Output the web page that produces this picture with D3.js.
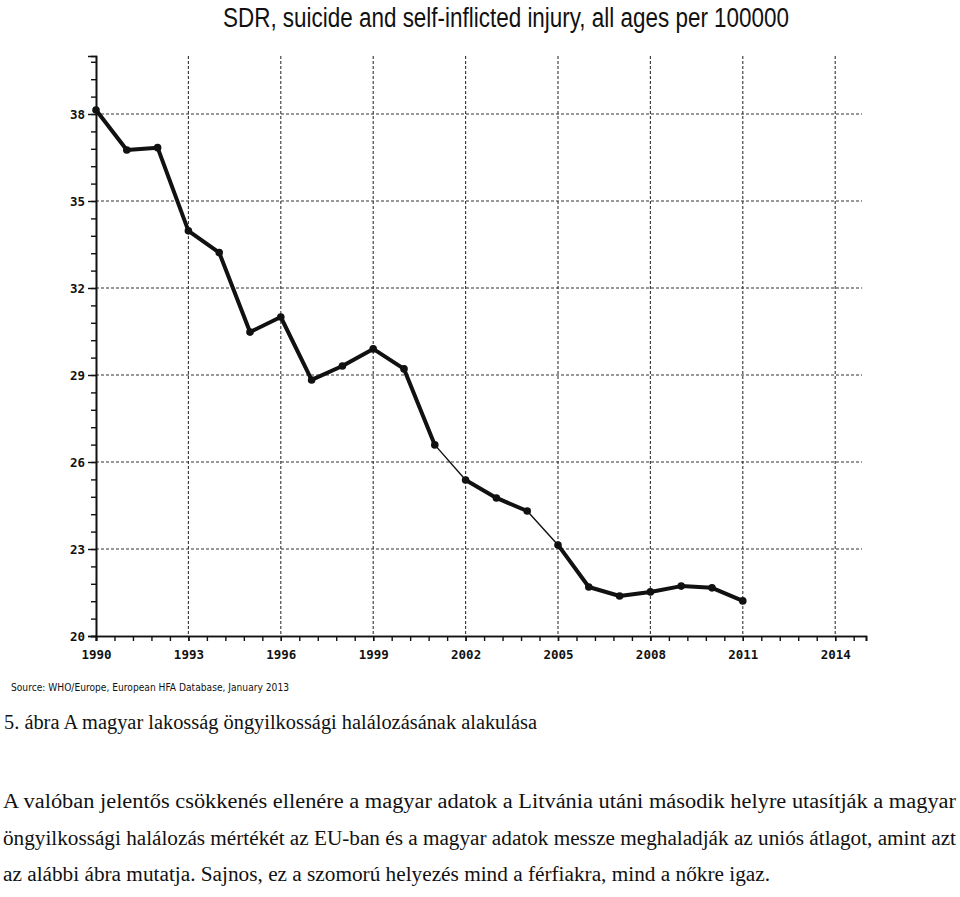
<!DOCTYPE html>
<html>
<head>
<meta charset="utf-8">
<script src="https://cdn.jsdelivr.net/npm/d3@7"></script>
<style>
  html, body { margin: 0; padding: 0; background: #fff; }
  svg { display: block; }
</style>
</head>
<body>
<svg id="chart" width="960" height="897"></svg>
<script>
// ---- data ----
const years = [1990,1991,1992,1993,1994,1995,1996,1997,1998,1999,2000,2001,2002,2003,2004,2005,2006,2007,2008,2009,2010,2011];
const values = [38.14,36.76,36.84,33.97,33.22,30.48,31.0,28.83,29.31,29.9,29.21,26.59,25.38,24.76,24.31,23.14,21.69,21.38,21.52,21.72,21.66,21.21];
const yTickValues = [20,23,26,29,32,35,38];
const xTickValues = [1990,1993,1996,1999,2002,2005,2008,2011,2014];
const titleText = "SDR, suicide and self-inflicted injury, all ages per 100000";
const sourceText = "Source: WHO/Europe, European HFA Database, January 2013";
const captionText = "5. ábra A magyar lakosság öngyilkossági halálozásának alakulása";
const paragraphLines = [
  "A valóban jelentős csökkenés ellenére a magyar adatok a Litvánia utáni második helyre utasítják a magyar",
  "öngyilkossági halálozás mértékét az EU-ban és a magyar adatok messze meghaladják az uniós átlagot, amint azt",
  "az alábbi ábra mutatja. Sajnos, ez a szomorú helyezés mind a férfiakra, mind a nőkre igaz."
];
// segments (by starting year) drawn with a thin stroke in the original
const thinSegmentStarts = [2001, 2004];

// ---- layout ----
const svg = d3.select("#chart");
const plot = { left: 96, right: 866, top: 56, bottom: 636 };

const x = d3.scaleLinear().domain([1990, 2015]).range([plot.left, plot.right]);
const y = d3.scaleLinear().domain([20, 40]).range([plot.bottom, plot.top]);

// title
svg.append("text")
  .attr("x", 506).attr("y", 27)
  .attr("text-anchor", "middle")
  .attr("font-family", "'Liberation Sans Narrow', 'Liberation Sans', Arial, sans-serif")
  .attr("font-size", 27)
  .attr("textLength", 566).attr("lengthAdjust", "spacingAndGlyphs")
  .attr("fill", "#111")
  .text(titleText);

const g = svg.append("g");

// gridlines
const gridStyle = sel => sel.attr("stroke", "#333").attr("stroke-width", 1.1).attr("stroke-dasharray", "3,2");
g.append("g").selectAll("line").data(yTickValues.filter(v => v !== 20)).join("line")
  .attr("x1", plot.left).attr("x2", plot.right - 4)
  .attr("y1", d => y(d)).attr("y2", d => y(d))
  .call(gridStyle);
g.append("g").selectAll("line").data(xTickValues.filter(v => v !== 1990)).join("line")
  .attr("x1", d => x(d)).attr("x2", d => x(d))
  .attr("y1", plot.top).attr("y2", plot.bottom)
  .call(gridStyle);

// axes
const yMinor = d3.range(20, 40.01, 0.6).map(v => +v.toFixed(2));
const xMinor = d3.range(1990, 2015.01, 0.6).map(v => +v.toFixed(2));

const yAxis = d3.axisLeft(y).tickValues(yTickValues).tickSize(8).tickPadding(3).tickFormat(d3.format("d"));
const yAxisMinor = d3.axisLeft(y).tickValues(yMinor).tickSize(5).tickFormat("");
const xAxis = d3.axisBottom(x).tickValues(xTickValues).tickSize(5).tickPadding(9).tickFormat(d3.format("d"));
const xAxisMinor = d3.axisBottom(x).tickValues(xMinor).tickSize(5).tickFormat("");

function styleAxis(sel) {
  sel.select(".domain").attr("stroke", "#111").attr("stroke-width", 1.6);
  sel.selectAll(".tick line").attr("stroke", "#111").attr("stroke-width", 1.4);
  sel.selectAll(".tick text")
    .attr("font-family", "'DejaVu Sans Mono', monospace")
    .attr("font-weight", "bold")
    .attr("font-size", 12.5)
    .attr("fill", "#111");
}

g.append("g").attr("transform", `translate(${plot.left},0)`).call(yAxisMinor).call(styleAxis);
g.append("g").attr("transform", `translate(${plot.left},0)`).call(yAxis).call(styleAxis);
g.append("g").attr("transform", `translate(0,${plot.bottom})`).call(xAxisMinor).call(styleAxis);
g.append("g").attr("transform", `translate(0,${plot.bottom})`).call(xAxis).call(styleAxis);

// data line, drawn segment by segment
const pts = years.map((yr, i) => ({ yr, v: values[i] }));
const segs = d3.pairs(pts);
g.append("g").selectAll("line").data(segs).join("line")
  .attr("x1", d => x(d[0].yr)).attr("y1", d => y(d[0].v))
  .attr("x2", d => x(d[1].yr)).attr("y2", d => y(d[1].v))
  .attr("stroke", "#111")
  .attr("stroke-linecap", "round")
  .attr("stroke-width", d => thinSegmentStarts.includes(d[0].yr) ? 1.4 : 4);

g.append("g").selectAll("circle").data(pts).join("circle")
  .attr("cx", d => x(d.yr)).attr("cy", d => y(d.v))
  .attr("r", 3.8).attr("fill", "#111");

// source
svg.append("text")
  .attr("x", 11).attr("y", 691)
  .attr("font-family", "'DejaVu Sans', Verdana, sans-serif")
  .attr("font-size", 11)
  .attr("textLength", 278).attr("lengthAdjust", "spacingAndGlyphs")
  .attr("fill", "#111")
  .text(sourceText);

// caption
svg.append("text")
  .attr("x", 4).attr("y", 729)
  .attr("font-family", "'Liberation Serif', 'Times New Roman', serif")
  .attr("font-size", 20)
  .attr("textLength", 533).attr("lengthAdjust", "spacingAndGlyphs")
  .attr("fill", "#111")
  .text(captionText);

// paragraph
const lineLengths = [953, 953, 767];
svg.append("g").selectAll("text").data(paragraphLines).join("text")
  .attr("x", 3).attr("y", (d, i) => 808 + i * 36.5)
  .attr("font-family", "'Liberation Serif', 'Times New Roman', serif")
  .attr("font-size", 20)
  .attr("textLength", (d, i) => lineLengths[i])
  .attr("lengthAdjust", "spacingAndGlyphs")
  .attr("fill", "#111")
  .text(d => d);
</script>
</body>
</html>
